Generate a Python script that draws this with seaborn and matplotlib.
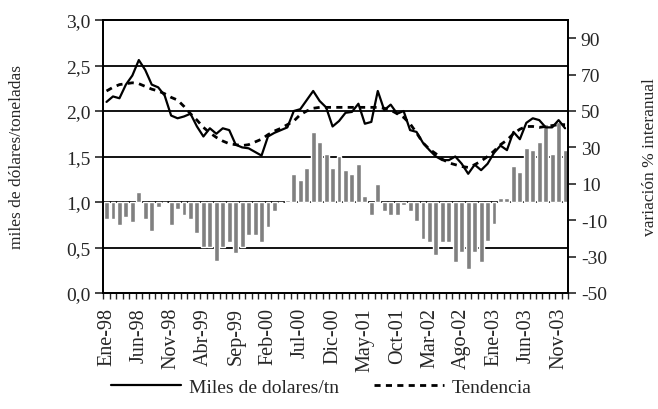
import numpy as np
import pandas as pd
import matplotlib
matplotlib.use("Agg")
import matplotlib.pyplot as plt
import seaborn as sns
from matplotlib.ticker import FuncFormatter, FixedLocator

# ---------------- data ----------------
month_names = ["Ene", "Feb", "Mar", "Abr", "May", "Jun", "Jul", "Ago", "Sep", "Oct", "Nov", "Dic"]
years = ["98", "99", "00", "01", "02", "03"]
months = [f"{m}-{y}" for y in years for m in month_names]

precio = [2.10, 2.16, 2.14, 2.29, 2.39, 2.56, 2.45, 2.29, 2.26, 2.17, 1.95, 1.92,
          1.94, 1.97, 1.83, 1.72, 1.81, 1.75, 1.81, 1.79, 1.63, 1.60, 1.59, 1.55,
          1.51, 1.72, 1.76, 1.79, 1.82, 2.00, 2.02, 2.12, 2.22, 2.11, 2.04, 1.83,
          1.89, 1.98, 1.99, 2.08, 1.86, 1.88, 2.22, 2.01, 2.07, 1.97, 2.00, 1.79,
          1.77, 1.65, 1.57, 1.50, 1.46, 1.46, 1.50, 1.42, 1.31, 1.41, 1.35, 1.42,
          1.54, 1.62, 1.57, 1.77, 1.69, 1.87, 1.92, 1.90, 1.82, 1.82, 1.90, 1.81]

tendencia = [2.22, 2.26, 2.29, 2.30, 2.31, 2.30, 2.27, 2.24, 2.22, 2.19, 2.15, 2.12,
             2.05, 1.97, 1.90, 1.82, 1.76, 1.71, 1.67, 1.64, 1.63, 1.62, 1.63, 1.66,
             1.69, 1.74, 1.78, 1.81, 1.85, 1.89, 1.96, 2.00, 2.03, 2.04, 2.04, 2.04,
             2.04, 2.04, 2.04, 2.04, 2.04, 2.04, 2.04, 2.03, 2.01, 1.97, 1.93, 1.86,
             1.76, 1.65, 1.58, 1.53, 1.47, 1.43, 1.41, 1.39, 1.38, 1.41, 1.45, 1.50,
             1.56, 1.63, 1.68, 1.75, 1.80, 1.83, 1.83, 1.82, 1.83, 1.84, 1.85, 1.85]

variacion = [-9.2, -9.2, -12.5, -8.0, -11.1, 5.5, -9.2, -15.8, -2.5, 0.0, -12.5, -3.6,
             -7.0, -9.2, -17.0, -24.9, -24.5, -32.2, -24.5, -22.2, -28.0, -24.9, -18.1, -18.1,
             -22.2, -13.5, -4.8, 0.0, 1.2, 15.4, 12.1, 18.6, 38.3, 33.0, 26.4, 18.6,
             25.5, 17.6, 15.4, 20.9, 3.1, -6.9, 9.9, -4.8, -6.9, -6.9, -1.4, -4.8,
             -10.2, -20.3, -22.2, -28.9, -22.2, -22.2, -33.2, -27.7, -36.6, -27.7, -33.2, -21.2,
             -12.2, 2.1, 2.1, 20.0, 16.7, 29.6, 28.6, 32.8, 43.0, 26.4, 44.0, 28.6]

left_ticks = [0.0, 0.5, 1.0, 1.5, 2.0, 2.5, 3.0]
right_ticks = [-50, -30, -10, 10, 30, 50, 70, 90]
label_every = 5

df = pd.DataFrame({"pos": np.arange(len(months)), "mes": months,
                   "precio": precio, "tendencia": tendencia, "variacion": variacion})

# ---------------- style ----------------
sns.set_style("white")
plt.rcParams["font.family"] = ["Liberation Serif", "DejaVu Serif"]
plt.rcParams["axes.linewidth"] = 1.3

W, H = 658, 410
fig = plt.figure(figsize=(W / 100, H / 100), dpi=100)
ax1 = fig.add_axes([103.3 / W, 1 - 294 / H, 465 / W, 273 / H])
ax2 = ax1.twinx()

# left -> right axis mapping (same physical height)
lmin, lmax = 0.0, 3.0
rmin, rmax = -50.0, 100.0
def l2r(v):
    return rmin + (v - lmin) / (lmax - lmin) * (rmax - rmin)

# bars on right axis (below the lines)
ax2.set_zorder(1)
ax1.set_zorder(2)
ax1.patch.set_visible(False)

for v in left_ticks[1:-1]:
    ax2.axhline(l2r(v), color="black", lw=1.3, zorder=0)

sns.barplot(data=df, x="pos", y="variacion", ax=ax2, color="#808080",
            saturation=1, width=0.76, zorder=2, native_scale=True)

sns.lineplot(data=df, x="pos", y="precio", ax=ax1, color="black", lw=1.6,
             label="Miles de dolares/tn")
sns.lineplot(data=df, x="pos", y="tendencia", ax=ax1, color="black", lw=2.0,
             linestyle=(0, (2.2, 1.9)), label="Tendencia")

n = len(months)
ax1.set_xlim(-0.5, n - 0.5)
ax1.set_ylim(lmin, lmax)
ax2.set_ylim(rmin, rmax)

ax1.set_yticks(left_ticks)
ax1.yaxis.set_major_formatter(FuncFormatter(lambda v, p: f"{v:.1f}".replace(".", ",")))
ax2.set_yticks(right_ticks)
ax2.yaxis.set_major_formatter(FuncFormatter(lambda v, p: f"{v:.0f}"))

label_pos = list(range(0, n, label_every))
ax1.xaxis.set_major_locator(FixedLocator(label_pos))
ax1.xaxis.set_major_formatter(FuncFormatter(lambda v, p: months[int(round(v))] if 0 <= int(round(v)) < n else ""))
ax1.xaxis.set_minor_locator(FixedLocator(np.arange(-0.5, n, 1.0)))
ax2.xaxis.set_visible(False)
ax2.set_xlabel("")
ax1.tick_params(axis="x", which="major", length=0, labelsize=14.5, pad=10, labelrotation=90,
                bottom=True, labelbottom=True)
ax1.tick_params(axis="x", which="minor", length=4, width=1.0, direction="out", bottom=True)
ax1.tick_params(axis="y", which="major", length=6, width=1.2, direction="out", labelsize=14, pad=3)
ax2.tick_params(axis="y", which="major", length=6, width=1.2, direction="out", labelsize=14, pad=3)

ax1.set_xlabel("")
ax1.set_ylabel("miles de dólares/toneladas", fontsize=12.5)
ax2.set_ylabel("variación % interanual", fontsize=12.5)
ax1.yaxis.set_label_coords(-0.168, 0.5)
ax2.yaxis.set_label_coords(1.158, 0.5)

for ax in (ax1, ax2):
    for s in ax.spines.values():
        s.set_color("black")
        s.set_linewidth(1.3)

handles, labels = ax1.get_legend_handles_labels()
if ax1.get_legend() is not None:
    ax1.get_legend().remove()
fig.legend(handles, labels, loc="center", bbox_to_anchor=(321 / W, 1 - 388 / H),
           ncol=2, frameon=False, fontsize=14, handlelength=3.6, columnspacing=1.8,
           handletextpad=0.4)

fig.savefig("out.png", dpi=100)
